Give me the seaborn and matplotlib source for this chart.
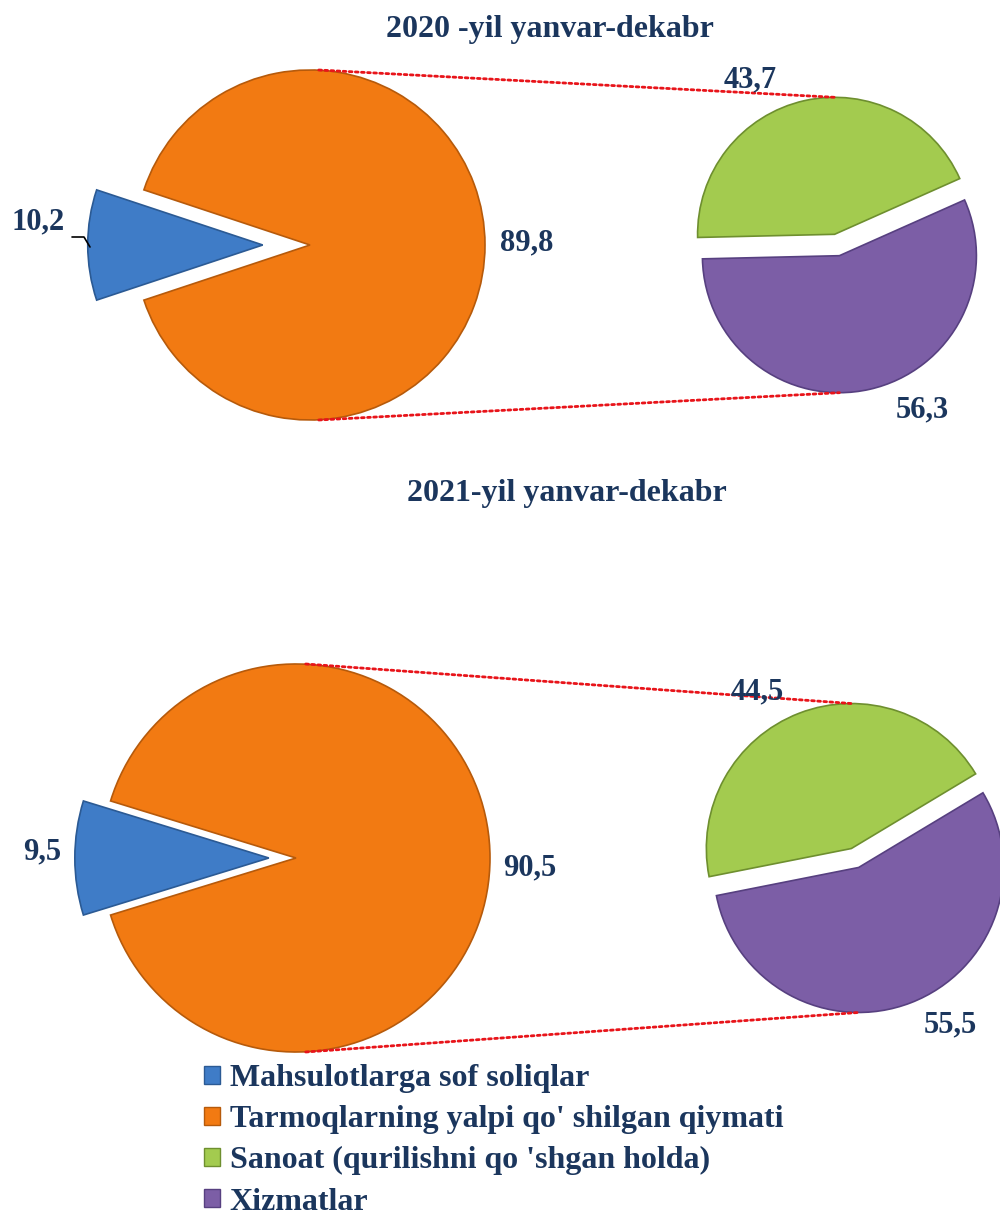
"""Pie-of-pie: YaIM tarkibi, 2020 va 2021 yanvar-dekabr."""

import matplotlib.pyplot as plt
from matplotlib.lines import Line2D
from matplotlib.patches import ConnectionPatch, Patch
import numpy as np
import seaborn as sns

# ---------------------------------------------------------------------------
# Data

categories = [
    "Mahsulotlarga sof soliqlar",
    "Tarmoqlarning yalpi qo' shilgan qiymati",
    "Sanoat (qurilishni qo 'shgan holda)",
    "Xizmatlar",
]
titles = ["2020 -yil yanvar-dekabr", "2021-yil yanvar-dekabr"]
main_2020 = [10.2, 89.8]   # soliqlar, yalpi qo'shilgan qiymat
sub_2020 = [43.7, 56.3]    # sanoat, xizmatlar
main_2021 = [9.5, 90.5]
sub_2021 = [44.5, 55.5]

# ---------------------------------------------------------------------------
# Style

sns.set_theme(style="white")
plt.rcParams["font.family"] = ["Liberation Serif", "DejaVu Serif"]
plt.rcParams["font.weight"] = "bold"

palette = ["#3f7cc7", "#f27a12", "#a3cb4f", "#7c5ea6"]
edges = ["#2b5a94", "#b65a0b", "#6e8f2f", "#574080"]
navy = "#1b365d"

W, H = 1000, 1216
fig = plt.figure(figsize=(W / 100, H / 100), dpi=100)
S = 1.45


def pie_axes(cx, cy, r):
    ax = fig.add_axes([(cx - S * r) / W, 1 - (cy + S * r) / H, 2 * S * r / W, 2 * S * r / H])
    return ax


def fix_axes(ax):
    # pie() resets the limits, so set them afterwards
    ax.set_xlim(-S, S)
    ax.set_ylim(-S, S)
    ax.set_aspect("equal")
    ax.axis("off")


def ftext(x, y, s, size=22, **kw):
    fig.text(x / W, 1 - y / H, s, fontsize=size, color=navy, fontweight="bold",
             ha="center", va="center", zorder=5, **kw)


def fmt(v):
    return f"{v:.1f}".replace(".", ",")


def draw_block(main, sub, title, main_geo, sub_geo, title_pos, labels_pos):
    cx, cy, r, expl = main_geo
    ax_main = pie_axes(cx, cy, r)
    start = 180 - 360 * main[0] / 100 / 2
    ax_main.pie(main, colors=palette[:2], startangle=start, explode=[expl, 0],
                wedgeprops=dict(linewidth=1.2), radius=1)
    for w, ec in zip(ax_main.patches, edges[:2]):
        w.set_edgecolor(ec)
    fix_axes(ax_main)

    scx, scy, sr, sexp, sstart = sub_geo
    ax_sub = pie_axes(scx, scy, sr)
    ax_sub.pie(sub, colors=palette[2:], startangle=sstart, explode=[sexp, sexp],
               wedgeprops=dict(linewidth=1.2), radius=1)
    for w, ec in zip(ax_sub.patches, edges[2:]):
        w.set_edgecolor(ec)
    fix_axes(ax_sub)

    # connector lines: main top/bottom to secondary top/bottom
    mid_g = np.deg2rad(sstart + 360 * sub[0] / 100 / 2)
    mid_p = np.deg2rad(sstart + 360 * sub[0] / 100 + 360 * sub[1] / 100 / 2)
    top_g = (sexp * np.cos(mid_g), 1 + sexp * np.sin(mid_g))
    bot_p = (sexp * np.cos(mid_p), -1 + sexp * np.sin(mid_p))
    for a, b in [((0.05, 1), top_g), ((0.05, -1), bot_p)]:
        con = ConnectionPatch(xyA=a, coordsA=ax_main.transData,
                              xyB=b, coordsB=ax_sub.transData,
                              color="#e8141a", linestyle=(0, (1, 1.2)), linewidth=2)
        fig.add_artist(con)

    ftext(*title_pos, title, size=23)
    values = [main[0], main[1], sub[0], sub[1]]
    for v, (x, y) in zip(values, labels_pos):
        ftext(x, y, fmt(v))


draw_block(main_2020, sub_2020, titles[0],
           main_geo=(310, 245, 175, 0.27),
           sub_geo=(837, 245, 137, 0.08, 24),
           title_pos=(550, 30),
           labels_pos=[(38, 222), (527, 243), (750, 80), (922, 410)])

draw_block(main_2021, sub_2021, titles[1],
           main_geo=(296, 858, 194, 0.14),
           sub_geo=(855, 858, 145, 0.07, 31),
           title_pos=(567, 493),
           labels_pos=[(42, 852), (530, 868), (757, 692), (950, 1025)])

# leader line for 10,2
fig.add_artist(Line2D([72 / W, 84 / W, 90 / W], [1 - 237 / H, 1 - 237 / H, 1 - 247 / H],
                      color="black", linewidth=1.2))

# legend
handles = [Patch(facecolor=c, edgecolor=e, linewidth=1) for c, e in zip(palette, edges)]
leg = fig.legend(handles, categories, loc="upper left",
                 bbox_to_anchor=(204 / W, 1 - 1064 / H), frameon=False,
                 fontsize=23, handlelength=0.5, handleheight=0.5,
                 handletextpad=0.3, labelspacing=0.38, borderaxespad=0, borderpad=0)
for t in leg.get_texts():
    t.set_color(navy)
    t.set_fontweight("bold")

fig.savefig("out.png", dpi=100)
